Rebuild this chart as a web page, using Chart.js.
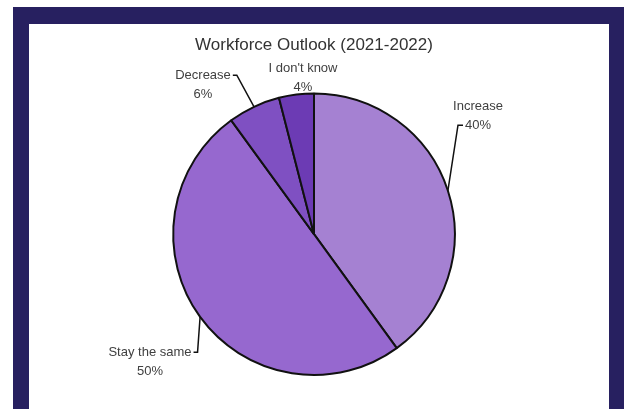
<!DOCTYPE html>
<html>
<head>
<meta charset="utf-8">
<script src="https://cdn.jsdelivr.net/npm/chart.js@4/dist/chart.umd.min.js"></script>
<style>
  html, body { margin: 0; padding: 0; background: #fff; overflow: hidden; }
  .frame {
    position: absolute; left: 13px; top: 7px; width: 611px; height: 420px;
    background: #272060;
  }
  .panel {
    position: absolute; left: 16px; top: 17px; width: 580px; height: 403px;
    background: #fff;
  }
  canvas { display: block; }
</style>
</head>
<body>
<div class="frame">
  <div class="panel">
    <canvas id="outlookChart" width="580" height="385"></canvas>
  </div>
</div>
<script>
const categories = ["Increase", "Stay the same", "Decrease", "I don't know"];
const shares = [40, 50, 6, 4];
const sliceColors = ["#a581d2", "#9668cf", "#7f50c2", "#6c3bb4"];

// where each label sits relative to the pie centre, and whether it gets a leader line
const labelPlacement = [
  { dx: 164, dy: -128, leader: "left" },
  { dx: -164, dy: 118, leader: "right" },
  { dx: -111, dy: -159, leader: "right" },
  { dx: -11, dy: -166, leader: null }
];

const outsideLabels = {
  id: "outsideLabels",
  afterDatasetsDraw(chart) {
    const ctx = chart.ctx;
    const meta = chart.getDatasetMeta(0);
    ctx.save();
    ctx.font = "13px 'Liberation Sans', Arial, sans-serif";
    ctx.textAlign = "center";
    ctx.textBaseline = "middle";
    meta.data.forEach((arc, i) => {
      const p = arc.getProps(["x", "y", "startAngle", "endAngle", "outerRadius"], true);
      const mid = (p.startAngle + p.endAngle) / 2;
      const rimX = p.x + Math.cos(mid) * p.outerRadius;
      const rimY = p.y + Math.sin(mid) * p.outerRadius;
      const place = labelPlacement[i];
      const lx = p.x + place.dx;
      const ly = p.y + place.dy;
      const name = categories[i];
      const pct = shares[i] + "%";

      ctx.fillStyle = "#404040";
      ctx.fillText(name, lx, ly);
      ctx.fillText(pct, lx, ly + 19);

      if (place.leader) {
        ctx.strokeStyle = "#111";
        ctx.lineWidth = 1.5;
        ctx.beginPath();
        if (place.leader === "left") {
          // stub starts at the left of the percentage line
          const sx = lx - ctx.measureText(pct).width / 2 - 2;
          const sy = ly + 19;
          ctx.moveTo(sx, sy);
          ctx.lineTo(sx - 5, sy);
        } else {
          const sx = lx + ctx.measureText(name).width / 2 + 2;
          ctx.moveTo(sx, ly);
          ctx.lineTo(sx + 4, ly);
        }
        ctx.lineTo(rimX, rimY);
        ctx.stroke();
      }
    });
    ctx.restore();
  }
};

new Chart(document.getElementById("outlookChart"), {
  type: "pie",
  data: {
    labels: categories,
    datasets: [{
      data: shares,
      backgroundColor: sliceColors,
      borderColor: "#111",
      borderWidth: 2
    }]
  },
  options: {
    responsive: false,
    animation: false,
    layout: { padding: { left: 143, right: 153, top: 8, bottom: 33 } },
    plugins: {
      legend: { display: false },
      tooltip: { enabled: false },
      title: {
        display: true,
        text: "Workforce Outlook (2021-2022)",
        color: "#333",
        font: { size: 17, family: "'Liberation Sans', Arial, sans-serif", weight: "normal" },
        padding: { top: 3, bottom: 37 }
      }
    }
  },
  plugins: [outsideLabels]
});
</script>
</body>
</html>
